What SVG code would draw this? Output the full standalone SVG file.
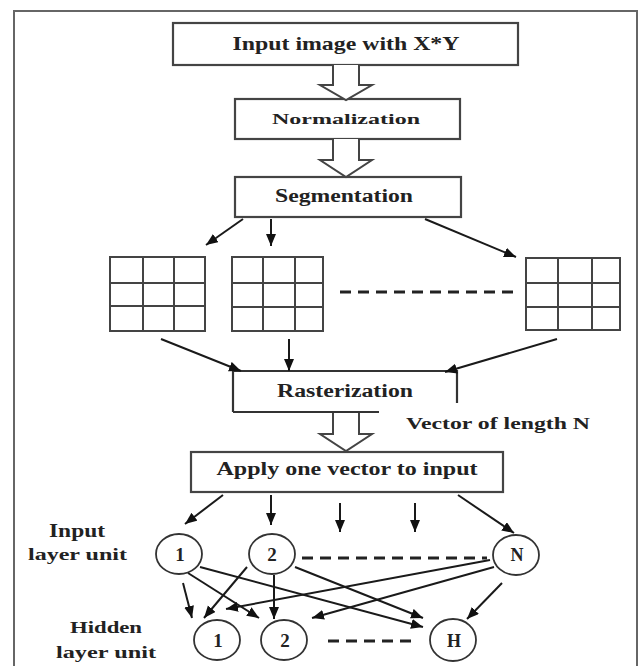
<svg xmlns="http://www.w3.org/2000/svg" width="643" height="666" viewBox="0 0 643 666">
<defs>
<marker id="ah" markerUnits="userSpaceOnUse" markerWidth="14" markerHeight="12" refX="12" refY="5" orient="auto">
<path d="M0,0 L12,5 L0,10 Z" fill="#111"/>
</marker>
<style>
.frame{fill:none;stroke:#666;stroke-width:2}
.box{fill:#fff;stroke:#444;stroke-width:2.2}
.ln{fill:none;stroke:#333;stroke-width:2.2}
.hollow{fill:#fff;stroke:#444;stroke-width:2}
.grid{fill:none;stroke:#444;stroke-width:2}
.arr{fill:none;stroke:#1a1a1a;stroke-width:2;marker-end:url(#ah)}
.dash{fill:none;stroke:#222;stroke-width:3.2;stroke-dasharray:11 7}
.node{fill:#fff;stroke:#333;stroke-width:1.8}
.t{font-family:"Liberation Serif","Times New Roman",serif;font-weight:bold;fill:#222}
</style>
</defs>
<rect width="643" height="666" fill="#fff"/>
<path class="frame" d="M14,668 V11 H637 V668"/>

<g id="input-image">
<rect class="box" x="173" y="23" width="345" height="42"/>
<text class="t" x="346" y="50" font-size="19" text-anchor="middle" textLength="227" lengthAdjust="spacingAndGlyphs">Input image with X*Y</text>
</g>
<g id="normalization">
<rect class="box" x="235" y="99" width="225" height="40"/>
<text class="t" x="346" y="124" font-size="15" text-anchor="middle" textLength="148" lengthAdjust="spacingAndGlyphs">Normalization</text>
</g>
<g id="segmentation">
<rect class="box" x="235" y="177" width="226" height="40"/>
<text class="t" x="344" y="202" font-size="18" text-anchor="middle" textLength="138" lengthAdjust="spacingAndGlyphs">Segmentation</text>
</g>

<g id="grid-1">
<rect class="grid" x="110" y="257" width="95" height="74"/>
<path class="grid" d="M143,257 V331 M174,257 V331 M110,283 H205 M110,306 H205"/>
</g>
<g id="grid-2">
<rect class="grid" x="232" y="257" width="91" height="74"/>
<path class="grid" d="M263,257 V331 M295,257 V331 M232,283 H323 M232,307 H323"/>
</g>
<g id="grid-n">
<rect class="grid" x="526" y="258" width="94" height="72"/>
<path class="grid" d="M558,258 V330 M592,258 V330 M526,283 H620 M526,307 H620"/>
</g>

<g id="rasterization">
<path class="ln" d="M233,412 V371 H457 V403 M233,412 H379"/>
<text class="t" x="345" y="397" font-size="18" text-anchor="middle" textLength="136" lengthAdjust="spacingAndGlyphs">Rasterization</text>
</g>
<g id="vector-label">
<text class="t" x="406" y="429" font-size="17" textLength="184" lengthAdjust="spacingAndGlyphs">Vector of length N</text>
</g>
<g id="apply">
<rect class="box" x="191" y="452" width="312" height="40"/>
<text class="t" x="347" y="475" font-size="18" text-anchor="middle" textLength="261" lengthAdjust="spacingAndGlyphs">Apply one vector to input</text>
</g>

<g id="input-layer-label">
<text class="t" x="49" y="537" font-size="18" textLength="56" lengthAdjust="spacingAndGlyphs">Input</text>
<text class="t" x="28" y="560" font-size="17" textLength="99" lengthAdjust="spacingAndGlyphs">layer unit</text>
</g>
<g id="hidden-layer-label">
<text class="t" x="70" y="633" font-size="16" textLength="72" lengthAdjust="spacingAndGlyphs">Hidden</text>
<text class="t" x="56" y="658" font-size="17" textLength="100" lengthAdjust="spacingAndGlyphs">layer unit</text>
</g>

<g id="in-1">
<ellipse class="node" cx="179" cy="554" rx="23" ry="20"/>
<text class="t" x="180" y="561" font-size="19" text-anchor="middle">1</text>
</g>
<g id="in-2">
<ellipse class="node" cx="272" cy="554" rx="23" ry="20"/>
<text class="t" x="272" y="561" font-size="19" text-anchor="middle">2</text>
</g>
<g id="in-n">
<ellipse class="node" cx="516" cy="555" rx="23" ry="20"/>
<text class="t" x="517" y="561" font-size="18" text-anchor="middle">N</text>
</g>
<g id="hid-1">
<ellipse class="node" cx="217" cy="640" rx="23" ry="20"/>
<text class="t" x="218" y="647" font-size="19" text-anchor="middle">1</text>
</g>
<g id="hid-2">
<ellipse class="node" cx="284" cy="640" rx="23" ry="20"/>
<text class="t" x="285" y="647" font-size="19" text-anchor="middle">2</text>
</g>
<g id="hid-h">
<ellipse class="node" cx="453" cy="640" rx="23" ry="21"/>
<text class="t" x="454" y="647" font-size="18" text-anchor="middle">H</text>
</g>

<g id="connectors">
<path class="hollow" d="M333,65 V85 H320 L346,100 L372,85 H359 V65"/>
<path class="hollow" d="M333,139 V160 H320 L346,177 L372,160 H359 V139"/>
<path class="hollow" d="M333,413 V434 H320 L346,451 L372,434 H359 V413"/>

<path class="arr" d="M243,219 L206,245"/>
<path class="arr" d="M271,219 L271,246"/>
<path class="arr" d="M425,219 L516,257"/>
<path class="dash" d="M340,292 H518"/>

<path class="arr" d="M161,339 L241,371"/>
<path class="arr" d="M289,339 L289,371"/>
<path class="arr" d="M557,339 L445,372"/>

<path class="arr" d="M223,495 L185,524"/>
<path class="arr" d="M271,495 L271,525"/>
<path class="arr" d="M340,503 L340,532"/>
<path class="arr" d="M415,503 L415,532"/>
<path class="arr" d="M458,495 L514,533"/>

<path class="dash" d="M302,558 H487"/>
<path class="dash" d="M328,641 H412"/>

<path class="arr" d="M183,583 L192,618"/>
<path class="arr" d="M188,573 L259,618"/>
<path class="arr" d="M200,567 L423,627"/>
<path class="arr" d="M247,567 L204,618"/>
<path class="arr" d="M274,575 L274,619"/>
<path class="arr" d="M295,567 L423,618"/>
<path class="arr" d="M490,560 L226,609"/>
<path class="arr" d="M494,567 L312,618"/>
<path class="arr" d="M502,583 L467,619"/>
</g>
</svg>
